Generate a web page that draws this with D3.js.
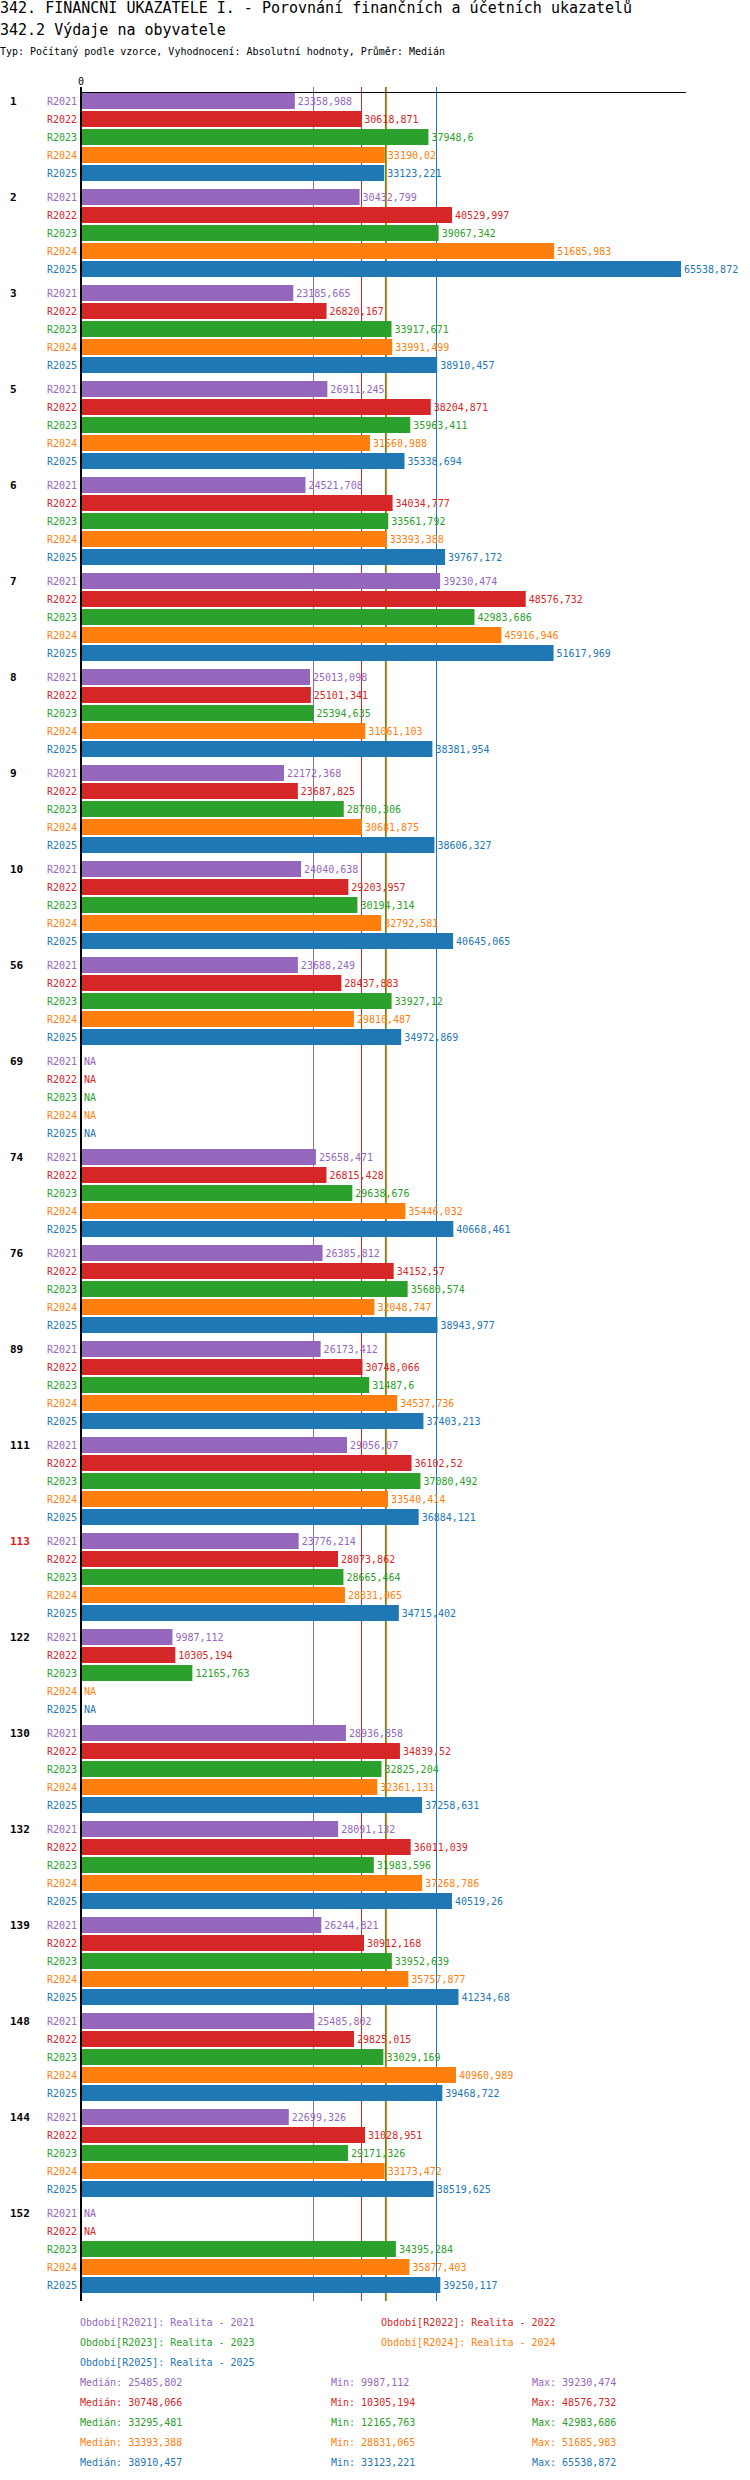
<!DOCTYPE html>
<html>
<head>
<meta charset="utf-8">
<script src="https://cdn.jsdelivr.net/npm/d3@7"></script>
<style>
  body { margin: 0; background: #fff; }
  svg { display: block; font-family: "DejaVu Sans Mono", monospace; }
</style>
</head>
<body>
<div id="chart"></div>
<script>
const groups = ['1', '2', '3', '5', '6', '7', '8', '9', '10', '56', '69', '74', '76', '89',
  '111', '113', '122', '130', '132', '139', '148', '144', '152'];
const highlighted = ['113'];
const series = ['R2021', 'R2022', 'R2023', 'R2024', 'R2025'];
const colors = ['#9467bd', '#d62728', '#2ca02c', '#ff7f0e', '#1f77b4'];
const legendNames = ['Realita - 2021', 'Realita - 2022', 'Realita - 2023', 'Realita - 2024', 'Realita - 2025'];

const r2021 = [23358.988, 30432.799, 23185.665, 26911.245, 24521.708, 39230.474, 25013.098, 22172.368,
  24040.638, 23688.249, null, 25658.471, 26385.812, 26173.412, 29056.07, 23776.214, 9987.112,
  28936.858, 28091.132, 26244.821, 25485.802, 22699.326, null];
const r2022 = [30618.871, 40529.997, 26820.167, 38204.871, 34034.777, 48576.732, 25101.341, 23687.825,
  29203.957, 28437.883, null, 26815.428, 34152.57, 30748.066, 36102.52, 28073.862, 10305.194,
  34839.52, 36011.039, 30912.168, 29825.015, 31028.951, null];
const r2023 = [37948.6, 39067.342, 33917.671, 35963.411, 33561.792, 42983.686, 25394.635, 28700.306,
  30194.314, 33927.12, null, 29638.676, 35680.574, 31487.6, 37080.492, 28665.464, 12165.763,
  32825.204, 31983.596, 33952.639, 33029.169, 29171.326, 34395.284];
const r2024 = [33190.02, 51685.983, 33991.499, 31560.988, 33393.388, 45916.946, 31061.103, 30681.875,
  32792.581, 29810.487, null, 35446.032, 32048.747, 34537.736, 33540.414, 28831.065, null,
  32361.131, 37268.786, 35757.877, 40960.989, 33173.472, 35877.403];
const r2025 = [33123.221, 65538.872, 38910.457, 35338.694, 39767.172, 51617.969, 38381.954, 38606.327,
  40645.065, 34972.869, null, 40668.461, 38943.977, 37403.213, 36884.121, 34715.402, null,
  37258.631, 40519.26, 41234.68, 39468.722, 38519.625, 39250.117];
const values = [r2021, r2022, r2023, r2024, r2025];

const medians = [25485.802, 30748.066, 33295.481, 33393.388, 38910.457];
const mins = [9987.112, 10305.194, 12165.763, 28831.065, 33123.221];
const maxs = [39230.474, 48576.732, 42983.686, 51685.983, 65538.872];

const W = 750, H = 2480;
const plotTop = 93, rowH = 18, barH = 16, groupGap = 6;
const groupH = series.length * rowH + groupGap;
const plotBottom = plotTop + groups.length * groupH - groupGap - rowH + barH + 8;

const fmt = v => v == null ? 'NA' : String(v).replace('.', ',');

const svg = d3.select('#chart').append('svg').attr('width', W).attr('height', H);
svg.append('rect').attr('width', W).attr('height', H).attr('fill', '#fff');

svg.append('text').attr('x', 0).attr('y', 13).attr('font-size', 15)
  .text('342. FINANČNÍ UKAZATELE I. - Porovnání finančních a účetních ukazatelů');
svg.append('text').attr('x', 0).attr('y', 35).attr('font-size', 15).text('342.2 Výdaje na obyvatele');
svg.append('text').attr('x', 0).attr('y', 55).attr('font-size', 10)
  .attr('textLength', 445).attr('lengthAdjust', 'spacingAndGlyphs')
  .text('Typ: Počítaný podle vzorce, Vyhodnocení: Absolutní hodnoty, Průměr: Medián');

const x = d3.scaleLinear()
  .domain([0, d3.max(values.flat())])
  .range([81, 681]);

const rowY = (g, s) => plotTop + g * groupH + s * rowH;

// zero tick
svg.append('text').attr('x', x(0)).attr('y', 85).attr('text-anchor', 'middle')
  .attr('font-size', 10).text('0');

// median lines (under bars)
medians.forEach((m, i) => {
  svg.append('line')
    .attr('x1', Math.round(x(m)) - 0.5).attr('x2', Math.round(x(m)) - 0.5)
    .attr('y1', 87).attr('y2', plotBottom)
    .attr('stroke', colors[i]).attr('stroke-width', 1);
});

groups.forEach((g, gi) => {
  svg.append('text')
    .attr('x', 10).attr('y', rowY(gi, 0) + barH / 2 + 4)
    .attr('font-size', 11).attr('font-weight', 'bold')
    .attr('fill', highlighted.includes(g) ? '#e8141a' : '#000')
    .text(g);

  series.forEach((s, si) => {
    const v = values[si][gi];
    const yy = rowY(gi, si);
    svg.append('text')
      .attr('x', 77).attr('y', yy + barH / 2 + 4).attr('text-anchor', 'end')
      .attr('font-size', 10).attr('fill', colors[si]).text(s);
    if (v != null) {
      svg.append('rect')
        .attr('x', x(0)).attr('y', yy)
        .attr('width', x(v) - x(0)).attr('height', barH)
        .attr('fill', colors[si]);
    }
    svg.append('text')
      .attr('x', (v == null ? x(0) : x(v)) + 3).attr('y', yy + barH / 2 + 4)
      .attr('font-size', 10).attr('fill', colors[si]).text(fmt(v));
  });
});

// axes
svg.append('line').attr('x1', 80).attr('x2', 686).attr('y1', 92.5).attr('y2', 92.5)
  .attr('stroke', '#000').attr('stroke-width', 1);
svg.append('line').attr('x1', 81).attr('x2', 81).attr('y1', 87).attr('y2', plotBottom)
  .attr('stroke', '#000').attr('stroke-width', 2);

// legend
const legY = plotBottom + 25;
series.forEach((s, i) => {
  svg.append('text')
    .attr('x', i % 2 === 0 ? 80 : 381).attr('y', legY + Math.floor(i / 2) * 20)
    .attr('font-size', 10).attr('fill', colors[i])
    .text(`Období[${s}]: ${legendNames[i]}`);
});

const statY = legY + 60;
series.forEach((s, i) => {
  const yy = statY + i * 20;
  [[80, 'Medián', medians[i]], [331, 'Min', mins[i]], [532, 'Max', maxs[i]]].forEach(([xx, lbl, v]) => {
    svg.append('text').attr('x', xx).attr('y', yy)
      .attr('font-size', 10).attr('fill', colors[i])
      .text(`${lbl}: ${fmt(v)}`);
  });
});
</script>
</body>
</html>
